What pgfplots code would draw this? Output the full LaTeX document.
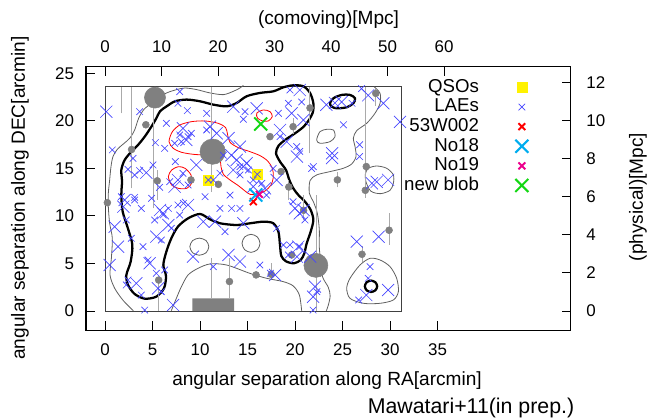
\documentclass[border=0pt]{standalone}
\usepackage{fontspec}
\setmainfont{Liberation Sans}
\usepackage{pgfplots}
\pgfplotsset{compat=1.18}
\definecolor{laeblue}{RGB}{70,70,255}
\definecolor{dotgray}{RGB}{128,128,128}
\definecolor{linegray}{RGB}{170,170,170}
\definecolor{contgray}{RGB}{95,95,95}
\definecolor{nbgreen}{RGB}{20,215,20}
\begin{document}
\fontsize{14.3pt}{17pt}\selectfont
\begin{tikzpicture}
\begin{axis}[
  at={(0pt,0pt)}, anchor=south west,
  scale only axis, width=363.4pt, height=197.4pt,
  xmin=-2, xmax=49, ymin=-2, ymax=25.7,
  xtick={0,5,...,35}, ytick={0,5,...,25},
  xtick pos=left, ytick pos=left,
  tick align=inside, major tick length=6.75pt,
  axis line style={line width=0.75pt},
  every tick/.style={black, line width=0.75pt},
  /pgf/number format/assume math mode=true,
  tick label style={font=\fontsize{12.7pt}{15pt}\selectfont},
  xticklabel style={yshift=-5.6pt},
  yticklabel style={xshift=-4pt},
  legend style={draw=none, fill=none, at={(0.913,0.958)}, anchor=north east,
    inner sep=0pt, outer sep=0pt, column sep=26.5pt, row sep=0.3pt,
    font=\fontsize{14pt}{16pt}\selectfont,
    nodes={inner sep=0.8pt, text height=10pt, text depth=2.8pt}},
  legend plot pos=right, legend cell align=right,
]
% inner field frame
\addplot[forget plot, color=black!75, line width=0.7pt] coordinates {(0,0) (31.2,0) (31.2,23.6) (0,23.6) (0,0)};
% gray block
\addplot[forget plot, fill=dotgray, draw=none] coordinates {(9.19,0) (13.58,0) (13.58,1.33) (9.19,1.33) (9.19,0)};
% thin gray contours (open)
\addplot[forget plot, contgray, line width=0.6pt, smooth] coordinates {
(14.56,23.75) (14.21,23.47) (13.51,23.12) (12.46,22.77) (11.05,22.95) (9.65,23.30) (8.42,23.47) (7.54,23.30) (6.49,22.95) (5.60,22.40) (4.91,21.86) (4.11,21.23) (3.54,20.28) (3.12,19.05) (2.60,18.18) (1.93,17.58) (1.30,17.02) (0.84,16.25) (0.63,15.19) (0.49,13.79) (0.35,12.39) (0.35,10.98) (0.49,9.23) (0.77,7.65) (0.67,5.54) (0.53,3.79) (1.02,2.39) (1.93,1.09) (2.98,0.03)};
\addplot[forget plot, contgray, line width=0.6pt, smooth] coordinates {
(6.98,0.03) (7.51,1.33) (8.04,2.56) (8.74,3.79) (9.79,4.49) (11.05,4.95) (12.81,4.84) (15.26,3.96) (17.02,3.44) (18.77,3.09) (19.82,2.63) (20.46,1.68) (20.70,0.03)};
\addplot[forget plot, contgray, line width=0.6pt, smooth] coordinates {
(28.32,23.61) (28.95,22.91) (28.95,21.86) (28.42,20.81) (27.54,19.75) (26.49,18.98) (26.14,18.18) (26.32,17.30) (26.42,16.25) (25.96,15.47) (25.09,15.02) (23.68,14.67) (22.28,14.32) (21.58,13.72) (21.51,12.39) (21.93,11.51) (22.35,10.28) (22.56,8.53) (22.55,6.80) (22.70,5.30) (22.90,3.60) (23.50,2.50) (23.70,1.60) (23.50,0.60) (23.30,0.03)};
% thin gray closed contours
\addplot[forget plot, contgray, line width=0.6pt, smooth cycle] coordinates {(22.28,18.0) (22.63,18.88) (23.33,19.12) (24.04,19.05) (24.21,18.35) (23.68,17.82) (22.63,17.65)};
\addplot[forget plot, contgray, line width=0.6pt, smooth cycle] coordinates {(27.72,15.02) (28.6,15.26) (29.65,15.02) (30.35,14.32) (30.35,13.44) (30.0,12.7) (29.0,12.35) (28.0,12.6) (27.5,13.5) (27.4,14.4)};
\addplot[forget plot, contgray, line width=0.6pt, smooth cycle] coordinates {(25.79,3.44) (26.84,4.84) (27.89,5.54) (28.95,5.37) (30.0,4.67) (30.7,3.44) (30.88,2.04) (30.35,1.16) (28.95,0.81) (27.19,0.81) (25.79,1.33) (25.44,2.39)};
\addplot[forget plot, contgray, line width=0.6pt, smooth cycle] coordinates {(10.93,6.77) (10.64,7.41) (9.93,7.67) (9.22,7.41) (8.93,6.77) (9.22,6.13) (9.93,5.87) (10.64,6.13)};
\addplot[forget plot, contgray, line width=0.6pt, smooth cycle] coordinates {(16.32,7.12) (16.04,7.79) (15.37,8.07) (14.70,7.79) (14.42,7.12) (14.70,6.45) (15.37,6.17) (16.04,6.45)};
% thick black contours
\addplot[forget plot, black, line width=1.7pt, smooth cycle] coordinates {
(1.72,14.84) (2.07,15.89) (2.77,16.77) (3.47,17.47) (4.18,18.35) (4.88,19.40) (5.40,20.28) (5.79,21.02) (6.49,21.54) (7.37,22.07) (8.60,22.25) (10.00,22.07) (11.40,21.72) (12.81,21.54) (13.86,21.89) (14.91,22.60) (16.32,22.95) (17.72,23.12) (18.77,23.54) (19.80,23.75) (20.88,23.65) (21.58,22.95) (21.93,21.89) (21.90,21.00) (21.50,20.15) (20.85,19.35) (20.00,18.70) (18.95,18.00) (18.25,17.37) (18.00,16.60) (18.42,15.72) (19.05,14.84) (19.40,13.79) (19.82,12.91) (20.35,12.21) (21.05,11.51) (21.65,10.63) (21.93,9.58) (21.65,8.35) (21.23,7.12) (20.98,6.07) (20.60,5.37) (19.89,5.02) (19.05,5.23) (18.56,5.79) (18.42,6.95) (18.25,8.35) (17.72,9.23) (16.67,9.40) (15.26,9.23) (13.86,9.05) (12.11,9.23) (11.05,9.65) (10.00,10.21) (8.74,9.75) (7.68,8.88) (6.98,7.65) (6.46,6.25) (6.14,4.84) (6.42,3.68) (6.21,2.39) (5.40,1.51) (4.18,1.30) (3.12,1.79) (2.42,2.74) (2.25,3.79) (2.70,5.19) (2.88,6.95) (2.42,8.67) (1.86,10.46) (1.72,12.21) (1.79,13.61)};
\addplot[forget plot, black, line width=1.7pt, smooth cycle] coordinates {(23.68,21.86) (24.04,22.39) (24.91,22.74) (25.79,22.74) (26.32,22.39) (26.14,21.86) (25.44,21.44) (24.39,21.33) (23.86,21.51)};
\addplot[forget plot, black, line width=1.7pt, smooth cycle] coordinates {(28.65,2.6) (28.46,3.02) (28.0,3.2) (27.54,3.02) (27.35,2.6) (27.54,2.18) (28.0,2.0) (28.46,2.18)};
% red contours
\addplot[forget plot, red, line width=0.6pt, smooth cycle] coordinates {
(6.74,17.82) (7.09,18.87) (7.89,19.58) (9.12,19.93) (10.53,20.0) (11.93,19.75) (12.7,19.3) (12.91,18.53) (13.16,17.75) (14.04,17.19) (15.26,16.77) (16.32,16.35) (17.12,15.79) (17.61,15.02) (17.72,14.14) (17.47,13.26) (16.84,12.63) (15.96,12.28) (15.26,12.28) (14.74,12.63) (14.04,13.19) (13.16,13.79) (12.46,14.39) (12.21,15.19) (12.11,15.89) (11.58,16.42) (10.53,16.42) (9.30,16.49) (8.07,16.7) (7.19,17.12)};
\addplot[forget plot, red, line width=0.6pt, smooth cycle] coordinates {(6.67,14.14) (7.02,14.84) (7.72,15.19) (8.42,15.02) (9.05,14.32) (9.12,13.44) (8.60,12.91) (7.72,12.91) (7.02,13.26)};
\addplot[forget plot, red, line width=0.6pt, smooth cycle] coordinates {(15.97,20.81) (16.67,21.16) (17.37,20.98) (17.61,20.46) (17.19,20.0) (16.6,20.0) (16.07,20.28)};
% vertical gray lines
\addplot[forget plot, linegray, line width=0.7pt, unbounded coords=jump] coordinates {
(1.70,20.8) (1.70,23.6) (1.70,nan)
(2.80,12.9) (2.80,23.6) (2.80,nan)
(5.09,10.8) (5.09,23.6) (5.09,nan)
(5.50,11.7) (5.50,14.8) (5.50,nan)
(11.25,12.5) (11.25,23.6) (11.25,nan)
(21.55,16.6) (21.55,23.6) (21.55,nan)
(27.45,11.9) (27.45,23.6) (27.45,nan)
(28.50,21.6) (28.50,23.4) (28.50,nan)
(22.25,0.05) (22.25,12.2) (22.25,nan)
(20.90,9.6) (20.90,12.2) (20.90,nan)
(19.35,11.7) (19.35,13.8) (19.35,nan)
(29.90,6.95) (29.90,10.3) (29.90,nan)
(27.05,5.2) (27.05,6.8) (27.05,nan)
(5.65,0.05) (5.65,3.6) (5.65,nan)
(11.16,1.33) (11.16,5.6) (11.16,nan)
(13.10,1.33) (13.10,5.55) (13.10,nan)
(17.50,3.4) (17.50,5.0) (17.50,nan)
(24.46,13.0) (24.46,14.6) (24.46,nan)
(19.80,18.6) (19.80,20.3)};
% gray dots
\addplot[forget plot, only marks, mark=*, mark size=2.6pt, mark options={draw=dotgray, fill=dotgray}] coordinates {
(4.30,19.60) (2.80,17.00) (5.50,13.70) (0.25,11.40) (11.93,13.33) (9.05,13.79) (17.37,18.35) (19.80,19.40) (21.58,21.37) (28.50,22.90) (27.50,15.20) (24.46,13.80) (27.40,12.70) (19.35,13.05) (18.53,14.67) (20.90,10.60) (29.90,8.50) (27.05,5.97) (19.65,5.90) (5.65,3.26) (13.10,3.10) (15.90,3.80) (17.50,3.86)};
\addplot[forget plot, only marks, mark=*, mark size=7.9pt, mark options={draw=dotgray, fill=dotgray}] coordinates {(5.26,22.46)};
\addplot[forget plot, only marks, mark=*, mark size=9.5pt, mark options={draw=dotgray, fill=dotgray}] coordinates {(11.33,16.77)};
\addplot[forget plot, only marks, mark=*, mark size=9pt, mark options={draw=dotgray, fill=dotgray}] coordinates {(22.2,4.8)};
% QSOs
\addplot[only marks, mark=square*, mark size=3.75pt, mark options={draw=yellow, fill=yellow}] coordinates {(10.88,13.79) (16.03,14.39)};
\addlegendentry{QSOs}
% LAEs small
\addplot[only marks, mark=x, mark size=3.5pt, mark options={draw=laeblue, line width=0.5pt}] table {
3.65 20.98
7.86 23.09
7.68 21.86
8.67 21.09
6.46 19.75
7.86 18.53
8.04 17.82
8.74 18.35
9.09 18.70
7.33 17.65
5.30 17.72
6.28 17.12
0.77 16.95
2.95 16.07
5.05 15.37
2.42 14.91
3.65 14.77
3.12 14.32
7.40 15.72
8.21 14.49
6.81 13.61
8.74 13.26
5.75 13.02
1.72 12.04
3.12 11.96
10.70 20.80
10.70 19.05
14.74 20.98
14.56 20.18
18.25 20.81
19.30 21.86
19.47 23.26
20.70 22.00
12.46 16.40
14.20 15.19
12.10 14.50
11.40 13.79
17.70 15.00
16.50 13.44
13.16 12.20
17.00 12.20
26.00 21.86
27.00 23.40
25.10 19.60
26.80 17.50
26.80 16.25
21.75 15.00
20.50 16.80
3.12 11.68
3.82 10.80
2.24 9.58
2.77 7.65
5.23 9.58
6.67 10.80
7.68 11.16
7.86 10.10
5.93 7.47
6.98 8.70
4.00 6.77
4.53 5.37
5.40 3.97
6.28 4.32
2.42 3.26
2.24 2.74
5.93 2.03
3.82 1.68
4.18 0.10
10.53 12.03
12.10 10.80
13.33 10.80
14.20 10.80
12.63 8.35
18.07 8.70
11.40 4.67
16.30 4.84
17.40 3.97
18.77 6.95
19.47 6.95
19.30 5.90
19.80 11.50
21.05 9.58
20.50 6.77
22.30 2.03
21.90 0.10
27.90 4.67
27.70 3.44
26.70 1.16
15.09 14.84
15.61 13.79
20.18 17.30
18.42 18.35
21.93 15.19
4.91 11.86
6.14 10.11
8.25 11.33
14.91 15.54
14.21 14.32
10.88 13.79
16.03 14.39
};
\addlegendentry{LAEs}
% LAEs large
\addplot[forget plot, only marks, mark=x, mark size=6.4pt, mark options={draw=laeblue, line width=0.5pt}] table {
0.14 20.98
8.21 19.23
8.56 18.00
4.35 14.56
9.61 15.37
7.68 13.79
7.33 13.09
11.05 19.40
11.75 18.70
13.50 21.50
15.97 21.33
19.65 20.81
18.42 19.05
20.50 23.26
20.88 20.10
13.00 18.20
14.20 17.30
13.30 16.40
14.90 15.55
13.50 14.84
18.07 13.79
20.20 16.25
15.60 13.09
23.30 21.70
24.20 21.90
24.90 22.00
27.70 22.70
29.30 21.86
31.05 19.90
23.90 16.60
23.90 16.10
28.10 13.44
28.60 13.60
29.80 13.80
2.07 11.68
1.02 8.87
1.37 6.77
0.49 4.84
6.10 10.28
6.67 9.05
8.74 11.16
5.40 7.82
4.70 5.02
3.30 2.91
5.58 2.39
7.16 0.63
9.26 5.72
10.35 9.40
11.58 9.40
14.56 9.23
13.00 5.90
14.20 5.20
17.90 3.79
20.35 6.77
20.20 5.72
20.00 10.80
20.50 10.28
20.90 10.63
21.60 5.72
22.10 2.56
21.90 1.50
26.50 7.30
28.80 7.82
27.50 1.68
29.80 2.21
1.93 10.98
5.79 10.63
13.86 15.90
14.56 15.19
16.84 12.91
19.12 17.82
};
% specials
\addplot[only marks, mark=x, mark size=3.6pt, mark options={draw=red, line width=1.4pt}] coordinates {(15.61,11.5)};
\addlegendentry{53W002}
\addplot[only marks, mark=x, mark size=6.9pt, mark options={draw=cyan, line width=1.5pt}] coordinates {(15.87,12.21)};
\addlegendentry{No18}
\addplot[only marks, mark=x, mark size=3.6pt, mark options={draw=magenta, line width=1.4pt}] coordinates {(16.25,12.28)};
\addlegendentry{No19}
\addplot[only marks, mark=x, mark size=6.9pt, mark options={draw=nbgreen, line width=1.5pt}] coordinates {(16.39,19.68)};
\addlegendentry{new blob}
\end{axis}
\begin{axis}[
  at={(0pt,0pt)}, anchor=south west,
  scale only axis, width=363.4pt, height=197.4pt,
  xmin=-3.362, xmax=82.37, ymin=-1, ymax=12.85,
  xtick={0,10,...,60}, ytick={0,2,...,12},
  xtick pos=right, ytick pos=right,
  xticklabel pos=right, yticklabel pos=right,
  tick align=inside, major tick length=6.75pt,
  axis line style={line width=0.75pt},
  every tick/.style={black, line width=0.75pt},
  /pgf/number format/assume math mode=true,
  tick label style={font=\fontsize{12.7pt}{15pt}\selectfont},
  xticklabel style={yshift=5.8pt},
  yticklabel style={xshift=7pt},
]
\end{axis}
\node[rotate=90] at (-49.5pt,99pt) {angular separation along DEC[arcmin]};
\node at (180.75pt,-38.25pt) {angular separation along RA[arcmin]};
\node at (181.9pt,232.5pt) {(comoving)[Mpc]};
\node[rotate=90] at (414pt,99.75pt) {(physical)[Mpc]};
\node at (288.75pt,-58.5pt) {\fontsize{16pt}{19pt}\selectfont Mawatari+11(in prep.)};
\pgfresetboundingbox
\path[use as bounding box] (-64.5pt,-66.75pt) rectangle (424.5pt,247.5pt);
\end{tikzpicture}
\end{document}
